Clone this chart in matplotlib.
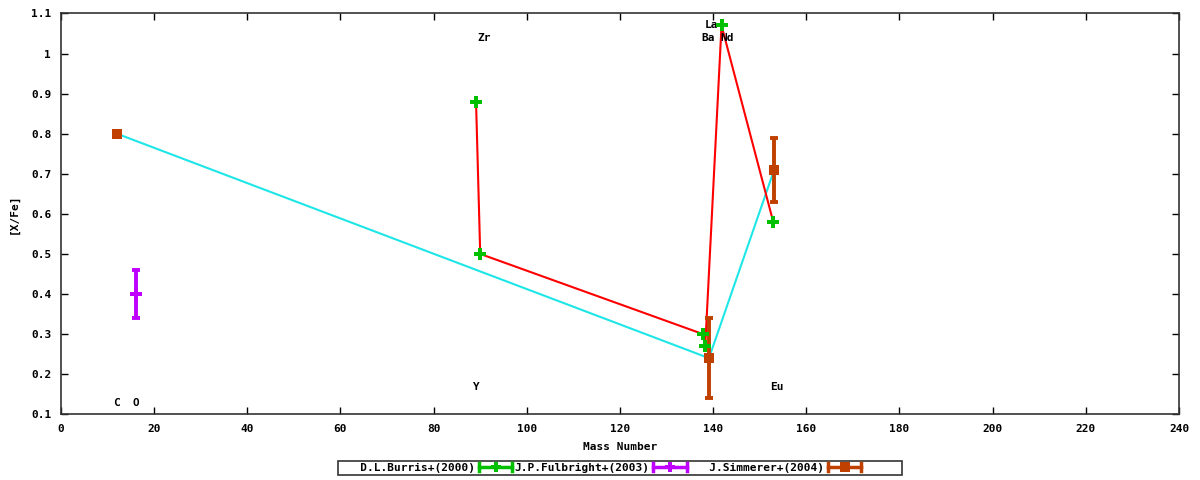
import matplotlib
matplotlib.use("Agg")
import matplotlib.pyplot as plt
from matplotlib.lines import Line2D
from matplotlib.legend_handler import HandlerBase

plt.rcParams['font.family'] = ['DejaVu Sans Mono']
plt.rcParams['font.size'] = 8
plt.rcParams['font.weight'] = 'bold'

# D.L.Burris+(2000)
burris_x = [89.1, 90.0, 137.8, 138.3, 141.8, 152.9]
burris_y = [0.88, 0.50, 0.30, 0.27, 1.07, 0.58]

# J.P.Fulbright+(2003)
fulb_x = [16.1]
fulb_y = [0.40]
fulb_err = [0.06]

# J.Simmerer+(2004)
simm_x = [12.0, 139.1, 153.1]
simm_y = [0.80, 0.24, 0.71]
simm_err = [0.0, 0.10, 0.08]

# element labels
elem_names = ['C', 'O', 'Y', 'Zr', 'La', 'Ba', 'Nd', 'Eu']
elem_x = [12.0, 16.1, 89.1, 90.8, 139.7, 139.0, 142.9, 153.7]
elem_y = [0.127, 0.127, 0.167, 1.038, 1.07, 1.038, 1.038, 0.167]

legend_labels = ['D.L.Burris+(2000)', 'J.P.Fulbright+(2003)', 'J.Simmerer+(2004)']
colors = ['#00c000', '#c000ff', '#c04000']
markers = ['P', 'P', 's']


class ErrKey(HandlerBase):
    # gnuplot style key: horizontal bar with end caps and the point in the middle
    def create_artists(self, legend, orig, xd, yd, width, height, fontsize, trans):
        c = orig.get_color()
        m = orig.get_marker()
        y = height / 2 - yd
        x0, x1 = -xd, -xd + width
        bar = Line2D([x0, x1], [y, y], color=c, lw=2.5, transform=trans)
        cap0 = Line2D([x0, x0], [y - 3, y + 3], color=c, lw=2.5, transform=trans)
        cap1 = Line2D([x1, x1], [y - 3, y + 3], color=c, lw=2.5, transform=trans)
        pt = Line2D([(x0 + x1) / 2], [y], marker=m, color=c, ms=7, mew=0,
                    ls='none', transform=trans)
        return [bar, cap0, cap1, pt]


fig = plt.figure(figsize=(12, 4.8), dpi=100)
ax = fig.add_axes([0.0508, 0.137, 0.9317, 0.835])

ax.plot(burris_x, burris_y, color='#ff0000', lw=1.5, zorder=2)
ax.plot(simm_x, simm_y, color='#1ee6e6', lw=1.5, zorder=1)

ax.errorbar(fulb_x, fulb_y, yerr=fulb_err, fmt='none', ecolor=colors[1],
            elinewidth=2.8, capsize=3, capthick=2.8, zorder=4)
ax.errorbar(simm_x[1:], simm_y[1:], yerr=simm_err[1:], fmt='none', ecolor=colors[2],
            elinewidth=2.8, capsize=3, capthick=2.8, zorder=3)
ax.plot(burris_x, burris_y, 'P', color=colors[0], ms=8, mew=0, zorder=4)
ax.plot(fulb_x, fulb_y, 'P', color=colors[1], ms=8, mew=0, zorder=4)
ax.plot(simm_x, simm_y, 's', color=colors[2], ms=7, mew=0, zorder=3)

for name, x, y in zip(elem_names, elem_x, elem_y):
    ax.text(x, y, name, ha='center', va='center', fontsize=8, fontweight='bold')

ax.set_xlim(0, 240)
ax.set_ylim(0.1, 1.1)
ax.set_xticks(range(0, 241, 20))
ax.set_yticks([0.1, 0.2, 0.3, 0.4, 0.5, 0.6, 0.7, 0.8, 0.9, 1.0, 1.1])
ax.set_yticklabels(['0.1', '0.2', '0.3', '0.4', '0.5', '0.6', '0.7', '0.8', '0.9', '1', '1.1'])
ax.tick_params(direction='in', top=True, right=True, length=5, width=1, pad=7)
for s in ax.spines.values():
    s.set_linewidth(1.2)
    s.set_color('#333333')

ax.set_xlabel('Mass Number', fontsize=8, fontweight='bold', labelpad=6)
ax.set_ylabel('[X/Fe]', fontsize=8, fontweight='bold', labelpad=9)

# right-aligned keys in equal-width columns, plus an empty slot at the end
width = max(len(t) for t in legend_labels)
labels = [t.rjust(width) for t in legend_labels] + ['']
handles = [Line2D([], [], color=c, marker=m) for c, m in zip(colors, markers)]
handles.append(Line2D([], [], color='none', marker='None'))
leg = ax.legend(handles, labels, loc='center', bbox_to_anchor=(0.517, 0.025),
                bbox_transform=fig.transFigure, ncol=4, markerfirst=False, frameon=True,
                fancybox=False, borderpad=0.15, handlelength=3.0, columnspacing=0.2,
                handletextpad=0.35, fontsize=8, handler_map={Line2D: ErrKey()})
leg.get_frame().set_edgecolor('black')
leg.get_frame().set_linewidth(1.2)

plt.savefig('out.png', dpi=100)
